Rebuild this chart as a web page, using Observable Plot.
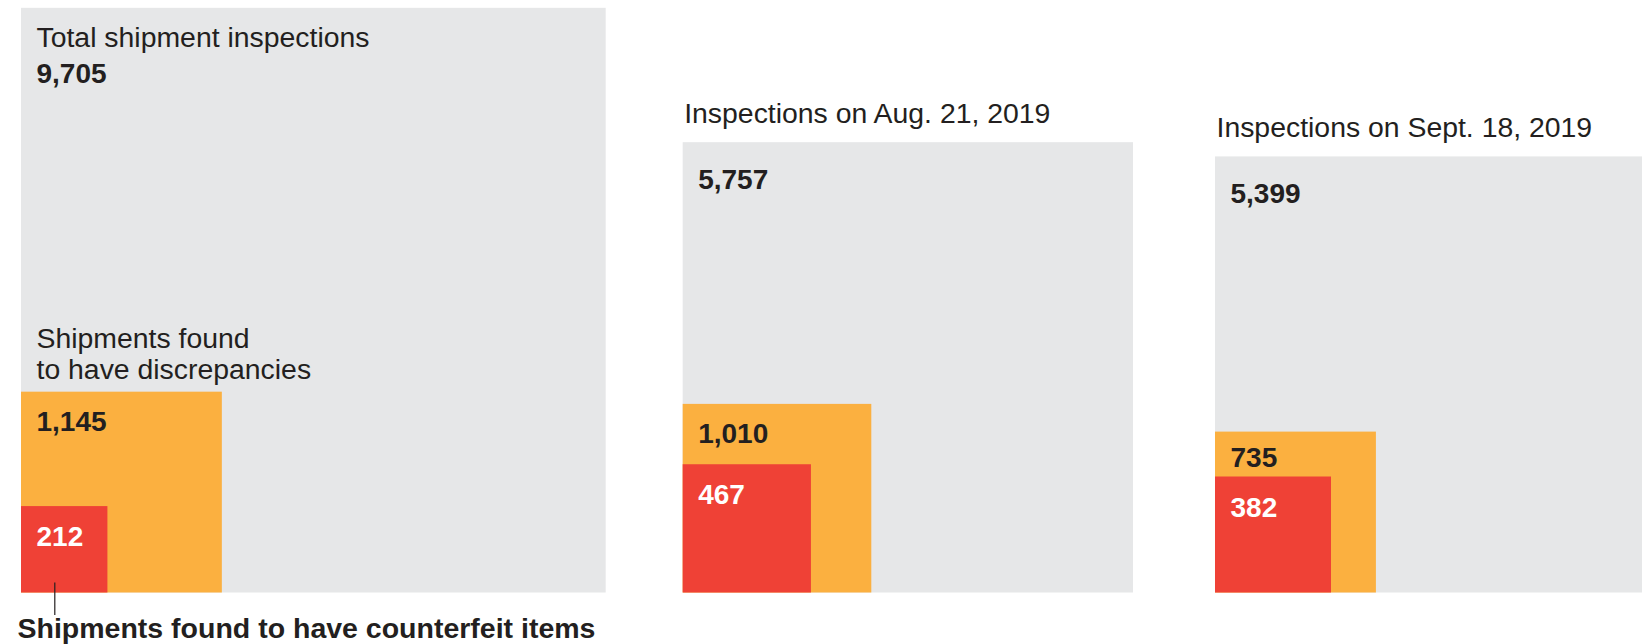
<!DOCTYPE html>
<html>
<head>
<meta charset="utf-8">
<script src="https://cdn.jsdelivr.net/npm/d3@7"></script>
<script src="https://cdn.jsdelivr.net/npm/@observablehq/plot@0.6"></script>
<style>
  html, body { margin: 0; padding: 0; background: #fff; }
  #chart svg { display: block; }
</style>
</head>
<body>
<div id="chart"></div>
<script>
// ---- Data ----
const groups = ["Total shipment inspections", "Inspections on Aug. 21, 2019", "Inspections on Sept. 18, 2019"];
const totals = [9705, 5757, 5399];
const discrepancies = [1145, 1010, 735];
const counterfeit = [212, 467, 382];
const kinds = ["total", "discrepancy", "counterfeit"];
const discrepancyLabel = "Shipments found\nto have discrepancies";
const counterfeitLabel = "Shipments found to have counterfeit items";

// ---- Layout (area-proportional squares) ----
const W = 1642, H = 644;
const K = 5.935;          // px per sqrt(shipment)
const BASE = 592.5;       // baseline of all squares, px
const u = px => px / K;   // px -> data units
const LEFT = 21;
const GAPS = [77, 82];    // px between consecutive groups
const fmt = d3.format(",");

let cursor = u(LEFT);
const layout = groups.map((g, i) => {
  const x0 = cursor;
  cursor += Math.sqrt(totals[i]) + u(GAPS[i] || 0);
  return {group: g, i, x0, total: totals[i], disc: discrepancies[i], cf: counterfeit[i]};
});

const rects = layout.flatMap(d => [
  {kind: "total", i: d.i, x0: d.x0, value: d.total},
  {kind: "discrepancy", i: d.i, x0: d.x0, value: d.disc, band: (Math.sqrt(d.disc) - Math.sqrt(d.cf)) * K},
  {kind: "counterfeit", i: d.i, x0: d.x0, value: d.cf}
]);

function valueOffset(d) {
  if (d.kind === "total") return d.i === 0 ? 75 : 46;
  if (d.kind === "discrepancy") return Math.min(39, d.band - 10);
  return 39.5;
}

const DARK = "#231f20";
const fontFamily = "'Liberation Sans', Arial, Helvetica, sans-serif";

const chart = Plot.plot({
  width: W,
  height: H,
  marginTop: 0,
  marginLeft: 0,
  marginRight: 0,
  marginBottom: H - BASE,
  x: {domain: [0, u(W)], axis: null},
  y: {domain: [0, u(BASE)], axis: null},
  color: {domain: kinds, range: ["#e6e7e8", "#fbb040", "#ef4136"]},
  style: {fontFamily, background: "#fff", overflow: "hidden"},
  marks: [
    Plot.rect(rects, {
      x1: d => d.x0,
      x2: d => d.x0 + Math.sqrt(d.value),
      y1: 0,
      y2: d => Math.sqrt(d.value),
      fill: "kind"
    }),
    // group titles
    Plot.text(layout, {
      x: d => d.x0 + u(d.i === 0 ? 15 : 1),
      y: d => Math.sqrt(d.total) - u(d.i === 0 ? 39 : -20),
      text: "group",
      textAnchor: "start",
      lineAnchor: "bottom",
      fontSize: 28.4,
      fill: DARK
    }),
    // value labels
    Plot.text(rects, {
      x: d => d.x0 + u(15),
      y: d => Math.sqrt(d.value) - u(valueOffset(d)),
      text: d => fmt(d.value),
      textAnchor: "start",
      lineAnchor: "bottom",
      fontSize: 28,
      fontWeight: "bold",
      fill: d => d.kind === "counterfeit" ? "#ffffff" : DARK
    }),
    // discrepancy label above first orange square
    Plot.text([discrepancyLabel], {
      x: () => layout[0].x0 + u(15),
      y: () => Math.sqrt(layout[0].disc) + u(12.7),
      text: d => d,
      textAnchor: "start",
      lineAnchor: "bottom",
      lineHeight: 31 / 28.4,
      fontSize: 28.4,
      fill: DARK
    }),
    // counterfeit annotation
    Plot.ruleX([layout[0]], {
      x: d => d.x0 + u(33.3),
      y1: u(10),
      y2: -u(22.5),
      stroke: DARK,
      strokeWidth: 1.2
    }),
    Plot.text([counterfeitLabel], {
      x: () => layout[0].x0 - u(4),
      y: () => -u(45),
      text: d => d,
      textAnchor: "start",
      lineAnchor: "bottom",
      fontSize: 28.5,
      fontWeight: "bold",
      fill: DARK
    })
  ]
});

document.getElementById("chart").appendChild(chart);
</script>
</body>
</html>
